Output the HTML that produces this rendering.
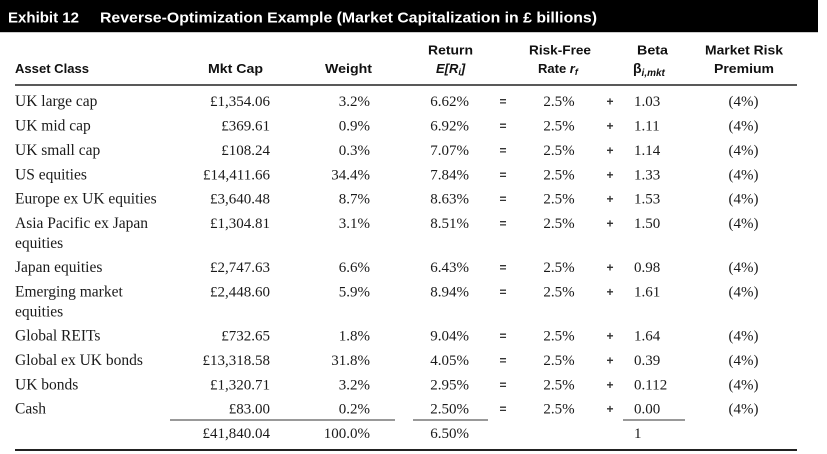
<!DOCTYPE html>
<html>
<head>
<meta charset="utf-8">
<style>
html,body{margin:0;padding:0;background:#fff;}
svg{display:block;}
.h{font-family:"Liberation Sans",Arial,sans-serif;font-weight:bold;font-size:13px;fill:#111;}
.b{font-family:"Liberation Serif","Times New Roman",serif;font-size:15px;fill:#1a1a1a;}
.n{font-size:15.5px;}
.op{font-family:"Liberation Sans",Arial,sans-serif;font-weight:bold;font-size:12px;fill:#333;}
.t{font-family:"Liberation Sans",Arial,sans-serif;font-weight:bold;font-size:15px;fill:#fff;}
</style>
</head>
<body>
<svg width="827" height="454" viewBox="0 0 827 454" xmlns="http://www.w3.org/2000/svg">
<rect x="0" y="0" width="827" height="454" fill="#fff"/>
<rect x="0" y="0" width="818" height="32" fill="#000"/>
<line x1="0" y1="32.5" x2="818" y2="32.5" stroke="#ccc" stroke-width="1"/>
<text class="t" x="8" y="22.5" textLength="71" lengthAdjust="spacingAndGlyphs">Exhibit 12</text>
<text class="t" x="100" y="22.5" textLength="497" lengthAdjust="spacingAndGlyphs">Reverse-Optimization Example (Market Capitalization in £ billions)</text>

<!-- headers -->
<text class="h" x="15" y="73" textLength="74" lengthAdjust="spacingAndGlyphs">Asset Class</text>
<text class="h" x="208" y="73" textLength="55" lengthAdjust="spacingAndGlyphs">Mkt Cap</text>
<text class="h" x="325" y="73" textLength="47" lengthAdjust="spacingAndGlyphs">Weight</text>
<text class="h" x="428" y="54.5" textLength="45" lengthAdjust="spacingAndGlyphs">Return</text>
<text class="h" x="436" y="73" font-style="italic">E[R<tspan font-size="9" dy="2">i</tspan><tspan dy="-2">]</tspan></text>
<text class="h" x="529" y="54.5" textLength="62" lengthAdjust="spacingAndGlyphs">Risk-Free</text>
<text class="h" x="538" y="73">Rate <tspan font-style="italic">r</tspan><tspan font-style="italic" font-size="9" dy="2">f</tspan></text>
<text class="h" x="637" y="54.5" textLength="31" lengthAdjust="spacingAndGlyphs">Beta</text>
<text class="h" x="633" y="73" style="font-size:14px;">β<tspan font-style="italic" font-weight="bold" font-size="10" dy="3">i,mkt</tspan></text>
<text class="h" x="705" y="54.5" textLength="78" lengthAdjust="spacingAndGlyphs">Market Risk</text>
<text class="h" x="714" y="73" textLength="60" lengthAdjust="spacingAndGlyphs">Premium</text>

<line x1="15" y1="85" x2="797" y2="85" stroke="#222" stroke-width="1.6"/>

<!-- rows -->
<g class="b n">
<text x="15" y="106">UK large cap</text>
<text x="15" y="130.5">UK mid cap</text>
<text x="15" y="155">UK small cap</text>
<text x="15" y="179.5">US equities</text>
<text x="15" y="203.5">Europe ex UK equities</text>
<text x="15" y="228">Asia Pacific ex Japan</text>
<text x="15" y="248">equities</text>
<text x="15" y="272">Japan equities</text>
<text x="15" y="296.5">Emerging market</text>
<text x="15" y="316.5">equities</text>
<text x="15" y="340.5">Global REITs</text>
<text x="15" y="365">Global ex UK bonds</text>
<text x="15" y="389.5">UK bonds</text>
<text x="15" y="413.5">Cash</text>
</g>

<g class="b" text-anchor="end">
<text x="270" y="106">£1,354.06</text>
<text x="270" y="130.5">£369.61</text>
<text x="270" y="155">£108.24</text>
<text x="270" y="179.5">£14,411.66</text>
<text x="270" y="203.5">£3,640.48</text>
<text x="270" y="228">£1,304.81</text>
<text x="270" y="272">£2,747.63</text>
<text x="270" y="296.5">£2,448.60</text>
<text x="270" y="340.5">£732.65</text>
<text x="270" y="365">£13,318.58</text>
<text x="270" y="389.5">£1,320.71</text>
<text x="270" y="413.5">£83.00</text>
<text x="270" y="438">£41,840.04</text>

<text x="370" y="106">3.2%</text>
<text x="370" y="130.5">0.9%</text>
<text x="370" y="155">0.3%</text>
<text x="370" y="179.5">34.4%</text>
<text x="370" y="203.5">8.7%</text>
<text x="370" y="228">3.1%</text>
<text x="370" y="272">6.6%</text>
<text x="370" y="296.5">5.9%</text>
<text x="370" y="340.5">1.8%</text>
<text x="370" y="365">31.8%</text>
<text x="370" y="389.5">3.2%</text>
<text x="370" y="413.5">0.2%</text>
<text x="370" y="438">100.0%</text>

<text x="469" y="106">6.62%</text>
<text x="469" y="130.5">6.92%</text>
<text x="469" y="155">7.07%</text>
<text x="469" y="179.5">7.84%</text>
<text x="469" y="203.5">8.63%</text>
<text x="469" y="228">8.51%</text>
<text x="469" y="272">6.43%</text>
<text x="469" y="296.5">8.94%</text>
<text x="469" y="340.5">9.04%</text>
<text x="469" y="365">4.05%</text>
<text x="469" y="389.5">2.95%</text>
<text x="469" y="413.5">2.50%</text>
<text x="469" y="438">6.50%</text>
</g>

<g class="op" text-anchor="middle">
<text x="503" y="105.5">=</text>
<text x="503" y="130">=</text>
<text x="503" y="154.5">=</text>
<text x="503" y="179">=</text>
<text x="503" y="203">=</text>
<text x="503" y="227.5">=</text>
<text x="503" y="271.5">=</text>
<text x="503" y="296">=</text>
<text x="503" y="340">=</text>
<text x="503" y="364.5">=</text>
<text x="503" y="389">=</text>
<text x="503" y="413">=</text>

<text x="610" y="105.5">+</text>
<text x="610" y="130">+</text>
<text x="610" y="154.5">+</text>
<text x="610" y="179">+</text>
<text x="610" y="203">+</text>
<text x="610" y="227.5">+</text>
<text x="610" y="271.5">+</text>
<text x="610" y="296">+</text>
<text x="610" y="340">+</text>
<text x="610" y="364.5">+</text>
<text x="610" y="389">+</text>
<text x="610" y="413">+</text>
</g>

<g class="b" text-anchor="middle">
<text x="559" y="106">2.5%</text>
<text x="559" y="130.5">2.5%</text>
<text x="559" y="155">2.5%</text>
<text x="559" y="179.5">2.5%</text>
<text x="559" y="203.5">2.5%</text>
<text x="559" y="228">2.5%</text>
<text x="559" y="272">2.5%</text>
<text x="559" y="296.5">2.5%</text>
<text x="559" y="340.5">2.5%</text>
<text x="559" y="365">2.5%</text>
<text x="559" y="389.5">2.5%</text>
<text x="559" y="413.5">2.5%</text>

<text x="743.5" y="106">(4%)</text>
<text x="743.5" y="130.5">(4%)</text>
<text x="743.5" y="155">(4%)</text>
<text x="743.5" y="179.5">(4%)</text>
<text x="743.5" y="203.5">(4%)</text>
<text x="743.5" y="228">(4%)</text>
<text x="743.5" y="272">(4%)</text>
<text x="743.5" y="296.5">(4%)</text>
<text x="743.5" y="340.5">(4%)</text>
<text x="743.5" y="365">(4%)</text>
<text x="743.5" y="389.5">(4%)</text>
<text x="743.5" y="413.5">(4%)</text>
</g>

<g class="b">
<text x="634" y="106">1.03</text>
<text x="634" y="130.5">1.11</text>
<text x="634" y="155">1.14</text>
<text x="634" y="179.5">1.33</text>
<text x="634" y="203.5">1.53</text>
<text x="634" y="228">1.50</text>
<text x="634" y="272">0.98</text>
<text x="634" y="296.5">1.61</text>
<text x="634" y="340.5">1.64</text>
<text x="634" y="365">0.39</text>
<text x="634" y="389.5">0.112</text>
<text x="634" y="413.5">0.00</text>
<text x="634" y="438">1</text>
</g>

<!-- subtotal lines -->
<line x1="170" y1="420" x2="395" y2="420" stroke="#333" stroke-width="1"/>
<line x1="413" y1="420" x2="488" y2="420" stroke="#333" stroke-width="1"/>
<line x1="623" y1="420" x2="685" y2="420" stroke="#333" stroke-width="1"/>

<!-- bottom rule -->
<line x1="15" y1="450" x2="797" y2="450" stroke="#222" stroke-width="2"/>
</svg>
</body>
</html>
